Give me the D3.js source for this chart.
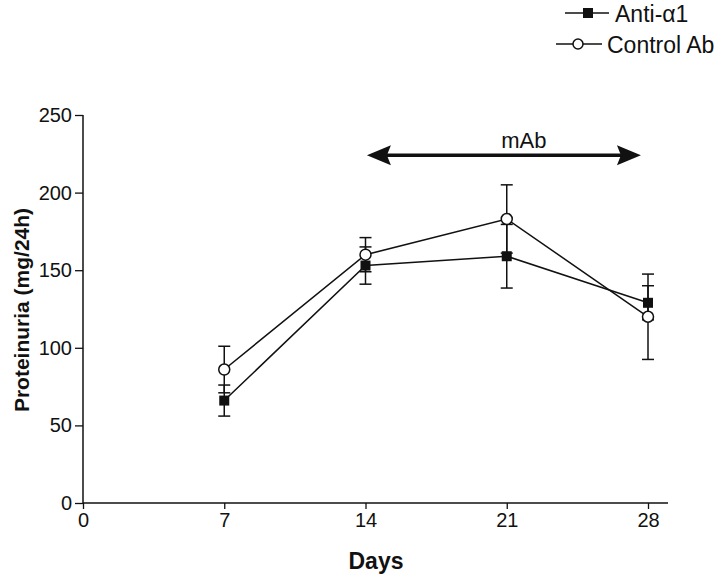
<!DOCTYPE html>
<html><head><meta charset="utf-8">
<script src="https://cdn.jsdelivr.net/npm/d3@7"></script>
<style>body{margin:0;background:#fff}svg{display:block}text{font-family:"Liberation Sans",Arial,sans-serif;fill:#111}</style>
</head><body><svg id="c" width="720" height="577"></svg>
<script>
const days = [7, 14, 21, 28];
const antiMean = [66, 153, 159, 129];
const antiErr = [10, 12, 20.5, 11];
const ctrlMean = [86, 160, 183, 120];
const ctrlErr = [15, 11, 22, 27.5];
const xTicks = [0, 7, 14, 21, 28];
const yTicks = [0, 50, 100, 150, 200, 250];
const mabRange = [14.07, 27.65];
const mabLevel = 224;

const svg = d3.select("#c");
const x = d3.scaleLinear().domain([0, 28]).range([83, 648]);
const y = d3.scaleLinear().domain([0, 250]).range([503, 115]);

// axes
const xAxis = d3.axisBottom(x).tickValues(xTicks).tickSize(6).tickPadding(4).tickFormat(d3.format("d"));
const gx = svg.append("g").attr("transform", "translate(0,503)").call(xAxis);
gx.select(".domain").attr("d", "M83,0H668").attr("stroke", "#111").attr("stroke-width", 1.5);
gx.selectAll(".tick line").attr("stroke", "#111").attr("stroke-width", 1.3);
gx.selectAll(".tick text").style("font-size", "20px").attr("fill", "#111");

const yAxis = d3.axisLeft(y).tickValues(yTicks).tickSize(8).tickPadding(3);
const gy = svg.append("g").attr("transform", "translate(83,0)").call(yAxis);
gy.select(".domain").attr("d", "M0,115V503").attr("stroke", "#111").attr("stroke-width", 1.5);
gy.selectAll(".tick line").attr("stroke", "#111").attr("stroke-width", 1.3);
gy.selectAll(".tick text").style("font-size", "20px").attr("fill", "#111");

// titles
svg.append("text").attr("x", 376).attr("y", 569).attr("text-anchor", "middle")
  .style("font-size", "23px").style("font-weight", "bold").text("Days");
svg.append("text").attr("transform", "translate(29,310) rotate(-90)").attr("text-anchor", "middle")
  .style("font-size", "21px").style("font-weight", "bold").text("Proteinuria (mg/24h)");

// mAb arrow
svg.append("line").attr("x1", x(mabRange[0]) + 10).attr("x2", x(mabRange[1]) - 10)
  .attr("y1", y(mabLevel)).attr("y2", y(mabLevel))
  .attr("stroke", "#111").attr("stroke-width", 3.5);
[[mabRange[0], -1], [mabRange[1], 1]].forEach(([d, s]) => {
  const tx = x(d), ty = y(mabLevel);
  svg.append("path").attr("d", `M${tx},${ty}L${tx - s*24},${ty-10}L${tx - s*20},${ty}L${tx - s*24},${ty+10}Z`).attr("fill", "#111");
});
svg.append("text").attr("x", (x(mabRange[0]) + x(mabRange[1])) / 2 + 20).attr("y", 148)
  .attr("text-anchor", "middle").style("font-size", "22px").text("mAb");

// lines
const line = d3.line().x((d, i) => x(days[i])).y(d => y(d));
svg.append("path").attr("d", line(ctrlMean)).attr("fill", "none").attr("stroke", "#111").attr("stroke-width", 1.5);
svg.append("path").attr("d", line(antiMean)).attr("fill", "none").attr("stroke", "#111").attr("stroke-width", 1.5);

// error bars
function errBars(mean, err) {
  const g = svg.append("g").attr("stroke", "#111").attr("stroke-width", 1.5);
  mean.forEach((m, i) => {
    const cx = x(days[i]);
    g.append("line").attr("x1", cx).attr("x2", cx).attr("y1", y(m + err[i])).attr("y2", y(m - err[i]));
    [m + err[i], m - err[i]].forEach(v => g.append("line").attr("x1", cx - 6).attr("x2", cx + 6).attr("y1", y(v)).attr("y2", y(v)));
  });
}
errBars(ctrlMean, ctrlErr);
errBars(antiMean, antiErr);

// markers
svg.append("g").selectAll("circle").data(ctrlMean).join("circle")
  .attr("cx", (d, i) => x(days[i])).attr("cy", d => y(d)).attr("r", 5.5)
  .attr("fill", "#fff").attr("stroke", "#111").attr("stroke-width", 1.5);
svg.append("g").selectAll("rect").data(antiMean).join("rect")
  .attr("x", (d, i) => x(days[i]) - 5).attr("y", d => y(d) - 5).attr("width", 10).attr("height", 10)
  .attr("fill", "#111");

// legend
const lg = svg.append("g");
lg.append("line").attr("x1", 565).attr("x2", 609).attr("y1", 13).attr("y2", 13).attr("stroke", "#111").attr("stroke-width", 1.5);
lg.append("rect").attr("x", 583).attr("y", 8).attr("width", 10).attr("height", 10).attr("fill", "#111");
lg.append("text").attr("x", 615).attr("y", 22).style("font-size", "23px").text("Anti-α1");
lg.append("line").attr("x1", 556).attr("x2", 602).attr("y1", 44).attr("y2", 44).attr("stroke", "#111").attr("stroke-width", 1.5);
lg.append("circle").attr("cx", 578).attr("cy", 44).attr("r", 5).attr("fill", "#fff").attr("stroke", "#111").attr("stroke-width", 1.5);
lg.append("text").attr("x", 607).attr("y", 53).style("font-size", "23px").text("Control Ab");
</script></body></html>
